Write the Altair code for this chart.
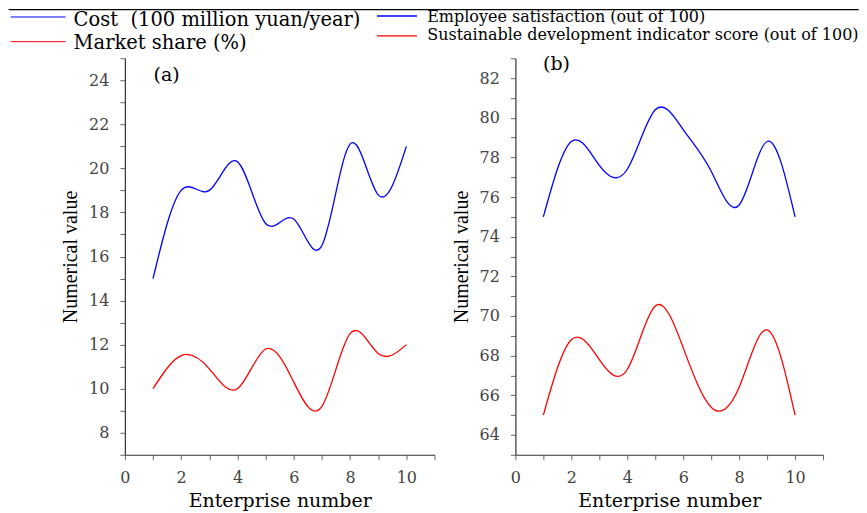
import altair as alt
import pandas as pd

# ---------------- data ----------------
enterprise = list(range(1, 11))
cost = [15.0, 19.0, 19.0, 20.3, 17.5, 17.7, 16.5, 21.1, 18.8, 21.0]
market_share = [10.0, 11.5, 10.9, 10.0, 11.8, 10.3, 9.2, 12.5, 11.6, 12.0]
satisfaction = [75.0, 78.8, 77.6, 77.4, 80.4, 79.4, 77.3, 75.6, 78.8, 75.0]
sustainability = [65.0, 68.8, 67.8, 67.3, 70.5, 68.4, 65.4, 66.4, 69.3, 65.0]

names_a = ["Cost\u00a0 (100 million yuan/year)", "Market share (%)"]
names_b = ["Employee satisfaction (out of 100)",
           "Sustainable development indicator score (out of 100)"]
colors = ["#0000ff", "#ff0000"]
x_ticks = list(range(0, 12))
ya_ticks = list(range(7, 26))
yb_ticks = list(range(63, 84))
panel_tags = ["(a)", "(b)"]
x_title = "Enterprise number"
y_title = "Numerical value"

SERIF = "DejaVu Serif"
TIMES = "Liberation Serif"

even_label = "datum.value % 2 == 0 && datum.value <= 10 ? datum.label : ''"
even_label_y = "datum.value % 2 == 0 ? datum.label : ''"

axis_common = dict(
    grid=False, domainColor="#333333", domainWidth=1.2,
    tickColor="#666666", tickWidth=1, tickSize=5,
    labelFont=SERIF, labelFontSize=16, labelColor="#444444",
    labelOverlap=False, labelFlush=False, titleFontWeight="normal",
    titleColor="#000000",
)


def x_axis():
    return alt.Axis(values=x_ticks, labelExpr=even_label, title=x_title,
                    titleFont=SERIF, titleFontSize=19, labelPadding=10,
                    titlePadding=6, **axis_common)


def y_axis(ticks):
    return alt.Axis(values=ticks, labelExpr=even_label_y, title=y_title,
                    titleFont=TIMES, titleFontSize=20, labelPadding=11,
                    titlePadding=8, **axis_common)


def one_row():
    return pd.DataFrame({"k": [0]})


def legend_layers(names, line_x, line_x2, line_ys, text_x, text_ys, size, lw):
    layers = []
    for i, nm in enumerate(names):
        layers.append(
            alt.Chart(one_row()).mark_rule(color=colors[i], strokeWidth=lw).encode(
                x=alt.value(line_x), x2=alt.value(line_x2), y=alt.value(line_ys[i]))
        )
        layers.append(
            alt.Chart(one_row()).mark_text(
                align="left", baseline="alphabetic", font=SERIF,
                fontSize=size, color="#000000").encode(
                x=alt.value(text_x), y=alt.value(text_ys[i]), text=alt.value(nm))
        )
    return layers


def panel(s1, s2, names, ydom, yticks, width, tag, tag_pos, extra):
    df = pd.DataFrame({
        "x": enterprise + enterprise,
        "v": s1 + s2,
        "s": [names[0]] * len(s1) + [names[1]] * len(s2),
    })
    lines = alt.Chart(df).mark_line(interpolate="natural", strokeWidth=1.3).encode(
        x=alt.X("x:Q", scale=alt.Scale(domain=[0, 11], nice=False, zero=False),
                axis=x_axis()),
        y=alt.Y("v:Q", scale=alt.Scale(domain=ydom, nice=False, zero=False),
                axis=y_axis(yticks)),
        color=alt.Color("s:N", scale=alt.Scale(domain=names, range=colors),
                        legend=None),
    )
    tag_text = alt.Chart(one_row()).mark_text(
        align="left", baseline="alphabetic", font=SERIF, fontSize=19,
        color="#000000").encode(x=alt.value(tag_pos[0]), y=alt.value(tag_pos[1]),
                                text=alt.value(tag))
    return alt.layer(lines, tag_text, *extra).properties(width=width, height=397)


# top border strip (cropped table line in the original)
border = alt.Chart(one_row()).mark_rect(color="#000000").encode(
    x=alt.value(-116.3), x2=alt.value(734.7), y=alt.value(-49.3), y2=alt.value(-48.1))

leg_a = legend_layers(names_a, -114.3, -59.3, [-41.3, -16.6], -51.3,
                      [-32.5, -9.7], 19.5, 1)
leg_b = legend_layers(names_b, -138.6, -98.6, [-42.3, -22.3], -88.3,
                      [-36.0, -18.6], 16, 1.3)

pa = panel(cost, market_share, names_a, [7, 25], ya_ticks, 310,
           panel_tags[0], (28.7, 23), [border] + leg_a)
pb = panel(satisfaction, sustainability, names_b, [63, 83], yb_ticks, 308,
           panel_tags[1], (27.7, 11.7), leg_b)

chart = alt.hconcat(pa, pb, spacing=81, bounds="flush").properties(
    padding=0, background="#ffffff"
).configure_view(stroke=None)

chart.save("out.html", embed_options={"renderer": "svg", "actions": False})
